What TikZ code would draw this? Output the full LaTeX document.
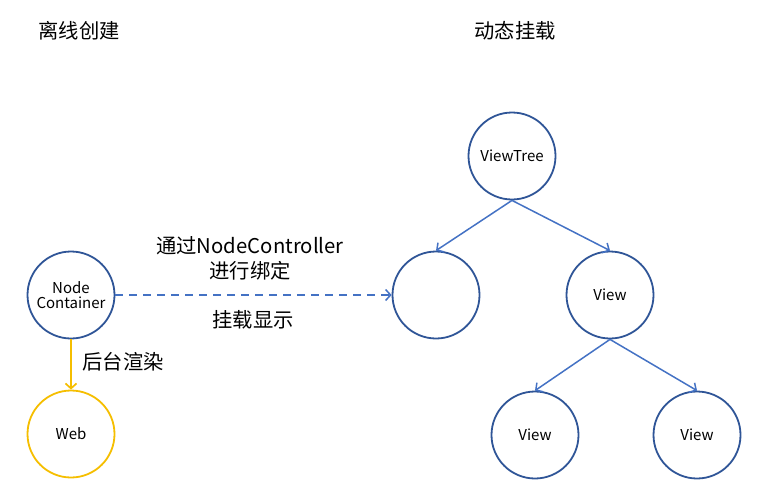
\documentclass[tikz,border=0pt]{standalone}
\usepackage{fontspec}
\setmainfont{Noto Sans CJK SC}
\usetikzlibrary{arrows.meta}
\definecolor{cblue}{HTML}{2F5597}
\definecolor{ablue}{HTML}{4472C4}
\definecolor{cyel}{HTML}{F5BE00}
\tikzset{
  bcirc/.style={circle, draw=cblue, line width=1.8pt, minimum size=87pt, inner sep=0pt, font=\fontsize{15}{17}\selectfont, align=center},
  ycirc/.style={circle, draw=cyel, line width=1.8pt, minimum size=87pt, inner sep=0pt, font=\fontsize{15}{17}\selectfont},
  tarrow/.style={draw=ablue, line width=1.5pt, -{Straight Barb[length=5pt,width=11pt,line width=1.5pt]}},
  lbl/.style={font=\fontsize{20.3}{25}\selectfont, align=center, inner sep=0pt},
}
\begin{document}
\begin{tikzpicture}[x=1pt,y=-1pt]
\useasboundingbox (0,0) rectangle (775,501);
\node[lbl] (t1) at (79,31) {离线创建};
\node[lbl] (t2) at (515,31) {动态挂载};

\node[bcirc] (nc) at (71,295) {Node\\[-2pt]Container};
\node[ycirc] (web) at (71,434) {Web};

\node[bcirc] (vt) at (512,156) {ViewTree};
\node[bcirc] (empty) at (436,295) {};
\node[bcirc] (v1) at (610,295) {View};
\node[bcirc] (v2) at (535,435) {View};
\node[bcirc] (v3) at (697,435) {View};

\draw[tarrow] (vt.south) -- (empty.north);
\draw[tarrow] (vt.south) -- (v1.north);
\draw[tarrow] (v1.south) -- (v2.north);
\draw[tarrow] (v1.south) -- (v3.north);

\draw[draw=ablue, line width=1.5pt, dash pattern=on 8pt off 6pt, -{Straight Barb[length=5pt,width=11pt,line width=1.5pt]}] (nc.east) -- (empty.west);
\draw[draw=cyel, line width=1.7pt, -{Straight Barb[length=5pt,width=11pt,line width=1.7pt]}] (nc.south) -- (web.north);

\node[lbl] (l1) at (250,258) {通过NodeController\\进行绑定};
\node[lbl] (l2) at (253,320) {挂载显示};
\node[lbl] (l3) at (123,362) {后台渲染};
\end{tikzpicture}
\end{document}
